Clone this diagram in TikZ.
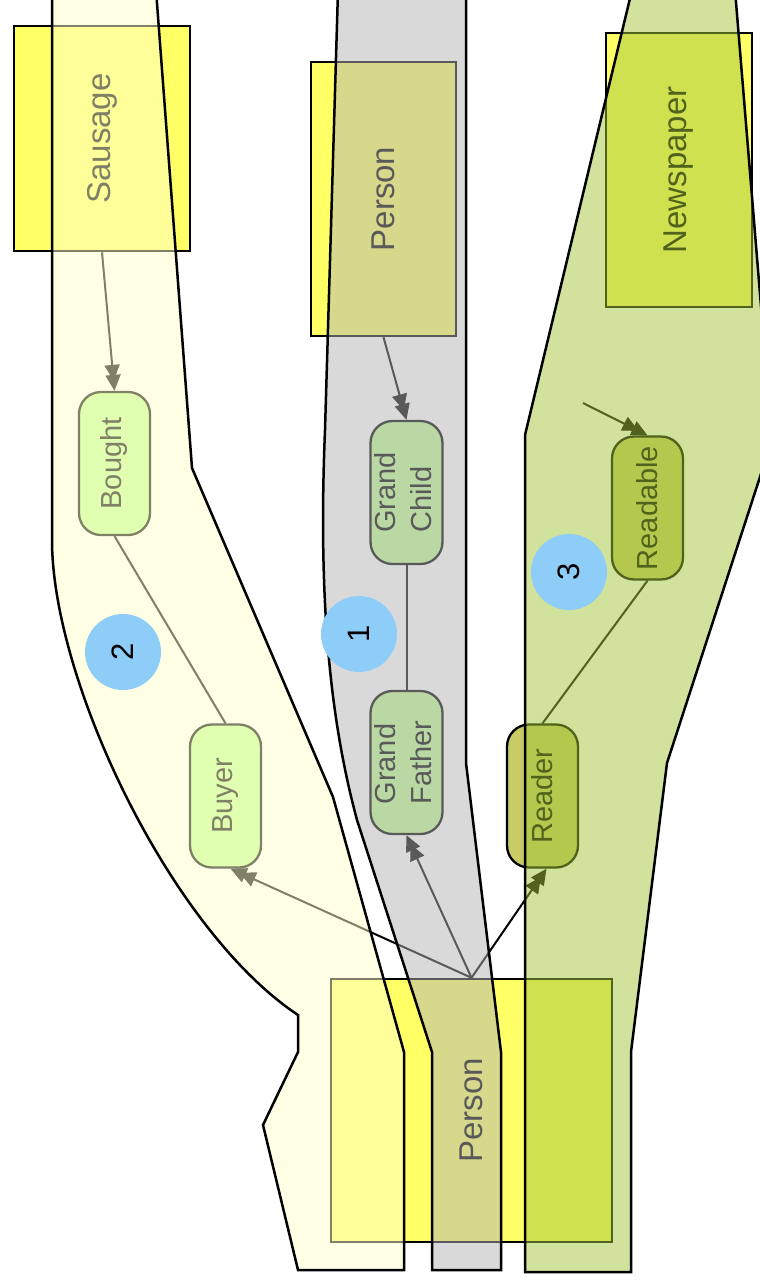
\documentclass[tikz,border=0pt]{standalone}
\usepackage{fontspec}
\setmainfont{Liberation Sans}
\usetikzlibrary{arrows.meta}
\definecolor{boxyellow}{HTML}{FFFF66}
\definecolor{rolegreen}{HTML}{C2FF94}
\definecolor{roleolive}{HTML}{C8CC66}
\definecolor{bandyellow}{HTML}{FFFFCC}
\definecolor{bandgrey}{HTML}{B3B3B3}
\definecolor{bandgreen}{HTML}{A1C537}
\definecolor{markblue}{HTML}{8FCDF9}

\begin{document}
\begin{tikzpicture}[x=1pt,y=-1pt,
  objbox/.style={draw=black, line width=2.5pt, fill=boxyellow, inner sep=0pt,
    font=\fontsize{33}{40}\selectfont},
  role/.style={draw=black, line width=2.3pt, fill=rolegreen, rounded corners=22pt,
    minimum width=71pt, minimum height=143pt, inner sep=0pt,
    font=\fontsize{29}{36}\selectfont},
  roleb/.style={role, fill=roleolive},
  link/.style={draw=black, line width=2pt},
  flow/.style={link, -{Triangle[length=16pt,width=15pt,sep=-6pt] Triangle[length=16pt,width=15pt]}},
  band/.style={draw=black, line width=2.5pt, line join=miter, fill opacity=0.5},
  marker/.style={circle, fill=markblue, minimum size=76pt, inner sep=0pt,
    font=\fontsize{31}{36}\selectfont},
]
\useasboundingbox (0,0) rectangle (760,1282);
\clip (0,0) rectangle (760,1282);

% object boxes
\node[objbox, minimum width=176pt, minimum height=225pt] (sausage) at (102,138.5) {\rotatebox{90}{Sausage}};
\node[objbox, minimum width=145pt, minimum height=274pt] (ptop) at (383.5,199) {\rotatebox{90}{Person}};
\node[objbox, minimum width=146pt, minimum height=274pt] (news) at (679,170) {\rotatebox{90}{Newspaper}};
\node[objbox, minimum width=281pt, minimum height=263pt] (pbot) at (471.5,1110.5) {\rotatebox{90}{Person}};

% roles
\node[role] (bought) at (114.5,463.5) {\rotatebox{90}{Bought}};
\node[role] (buyer) at (225.5,796) {\rotatebox{90}{Buyer}};
\node[role] (gchild) at (406.5,492.5) {\rotatebox{90}{\begin{tabular}{@{}l@{}}Grand\\Child\end{tabular}}};
\node[role] (gfather) at (406.5,762.5) {\rotatebox{90}{\begin{tabular}{@{}l@{}}Grand\\Father\end{tabular}}};
\node[roleb] (readable) at (647.5,508) {\rotatebox{90}{Readable}};
\node[roleb] (reader) at (542.5,796) {\rotatebox{90}{Reader}};

% connectors
\coordinate (cue) at (583,403);
\draw[flow] (sausage.south) -- (bought.north);
\draw[flow] (ptop.south) -- (gchild.north);
\draw[link] (gchild) -- (gfather);
\draw[link] (bought.south) -- (buyer.north);
\draw[link] (readable.south) -- (reader.north);
\draw[flow] (pbot.north) -- ([xshift=5pt]buyer.south);
\draw[flow] (pbot.north) -- (gfather.south);
\draw[flow] (pbot.north) -- ([xshift=4pt]reader.south);
\draw[flow] (cue) -- (readable.north);

% translucent bands
\path[band, fill=bandyellow] (52,-10) -- (52,540)
  .. controls (52,680) and (170,930) .. (298,1015)
  -- (298,1052) -- (263,1125) -- (298,1270) -- (404,1270) -- (404,1052)
  -- (333,797) -- (192,468) -- (156,-10) -- cycle;
\path[band, fill=bandgrey] (338,-10) -- (325,430)
  .. controls (318,600) and (330,720) .. (357,820)
  -- (432,1052) -- (432,1270) -- (501,1270) -- (501,1052)
  -- (466,763) -- (466,-10) -- cycle;
\path[band, fill=bandgreen] (632,-10) -- (525,435) -- (525,1272) -- (631,1272)
  -- (631,1052) -- (667,763) -- (772,440) -- (735,-10) -- cycle;

% numbered markers
\node[marker] (m1) at (359,634) {\rotatebox{90}{1}};
\node[marker] (m2) at (123,652) {\rotatebox{90}{2}};
\node[marker] (m3) at (569,572) {\rotatebox{90}{3}};
\end{tikzpicture}
\end{document}
